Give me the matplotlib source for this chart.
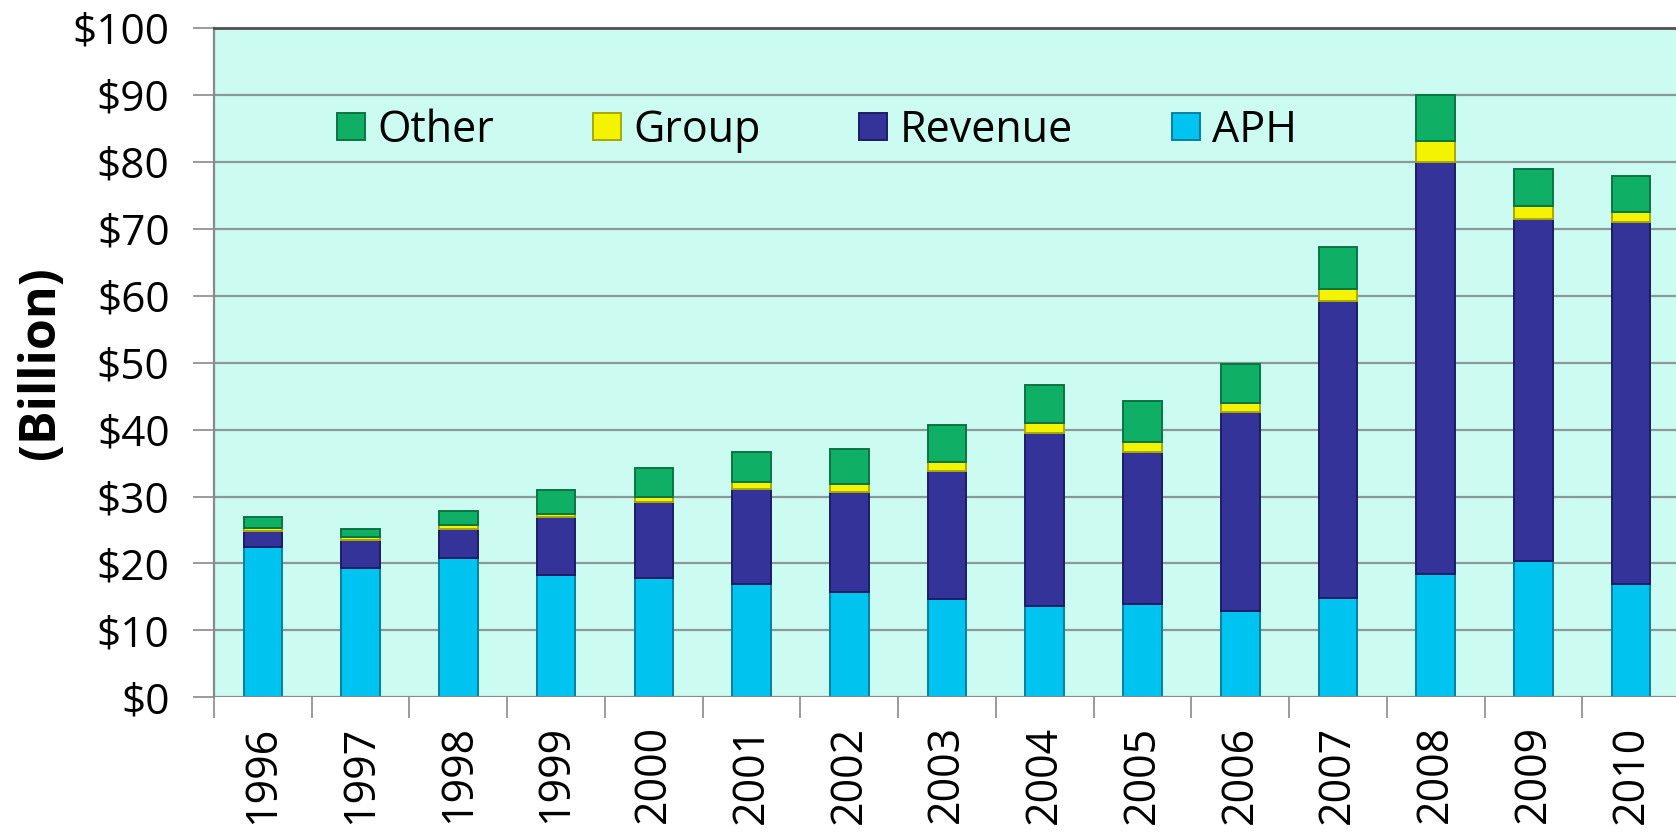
import numpy as np
import matplotlib
matplotlib.use("Agg")
import matplotlib.pyplot as plt

# Yearly totals split into four parts, in $ billion
years = ['1996', '1997', '1998', '1999', '2000', '2001', '2002', '2003',
         '2004', '2005', '2006', '2007', '2008', '2009', '2010']
aph = [22.5, 19.3, 20.8, 18.3, 17.8, 17.0, 15.8, 14.7, 13.6, 13.9, 12.9, 14.8, 18.5, 20.4, 17.0]
revenue = [2.4, 4.2, 4.4, 8.7, 11.4, 14.1, 14.8, 19.1, 25.9, 22.7, 29.7, 44.4, 61.5, 51.0, 54.0]
group = [0.4, 0.4, 0.5, 0.4, 0.8, 1.0, 1.2, 1.4, 1.4, 1.5, 1.3, 1.8, 3.1, 2.0, 1.4]
other = [1.6, 1.3, 2.2, 3.6, 4.3, 4.5, 5.3, 5.5, 5.7, 6.1, 5.9, 6.3, 6.8, 5.5, 5.5]

series = [('APH', aph, '#00c4f0', '#0a7fa0'),
          ('Revenue', revenue, '#33339a', '#1c1c66'),
          ('Group', group, '#f4f400', '#a8a800'),
          ('Other', other, '#0fb066', '#0a7544')]

plt.rcParams['font.family'] = ['Open Sans', 'DejaVu Sans']
fs = 30.5

fig = plt.figure(figsize=(16.76, 8.36), dpi=100)
ax = fig.add_axes([0.1277, 0.1657, 0.8747, 0.8013])
ax.set_facecolor('#cbfbf1')

x = np.arange(len(years))
bottom = np.zeros(len(years))
bars = {}
for name, vals, color, edge in series:
    vals = np.array(vals)
    bars[name] = ax.bar(x, vals, 0.395, bottom=bottom, color=color,
                        edgecolor=edge, linewidth=1.4, zorder=3)
    bottom += vals

ax.set_xlim(-0.5, len(years) - 0.5)
ax.set_ylim(0, 100)
ax.set_yticks(range(0, 101, 10))
ax.set_yticklabels(['$%d' % v for v in range(0, 101, 10)])
ax.yaxis.grid(True, color='#8a9898', linewidth=1.6, zorder=0)

# tick marks between years, labels centred under each bar
ax.set_xticks(np.arange(len(years) + 1) - 0.5)
ax.set_xticklabels([])
ax.set_xticks(x, minor=True)
ax.set_xticklabels(years, minor=True, rotation=90)
ax.tick_params(axis='x', which='major', length=15, color='#8a8a8a', width=1.2)
ax.tick_params(axis='x', which='minor', length=0, pad=20, labelsize=31)
ax.tick_params(axis='y', length=15, color='#8a8a8a', width=1.2, pad=17,
               labelsize=fs)

for side in ['right', 'bottom']:
    ax.spines[side].set_visible(False)
ax.spines['left'].set_color('#8a8a8a')
ax.spines['left'].set_linewidth(1.6)
ax.spines['top'].set_color('#505050')
ax.spines['top'].set_linewidth(2)
ax.axhline(0, color='#8a8a8a', linewidth=2, zorder=4)

ax.set_ylabel('(Billion)', fontsize=36, fontweight='bold')
ax.yaxis.set_label_coords(-0.101, 0.5)

handles = [bars['Other'], bars['Group'], bars['Revenue'], bars['APH']]
ax.legend(handles, ['Other', 'Group', 'Revenue', 'APH'], ncol=4,
          loc='center left', bbox_to_anchor=(0.0839, 0.846), frameon=False,
          fontsize=31, borderpad=0, borderaxespad=0, handlelength=0.65,
          handleheight=0.58, handletextpad=0.28, columnspacing=2.3)

fig.savefig('out.png', dpi=100, facecolor='white')
